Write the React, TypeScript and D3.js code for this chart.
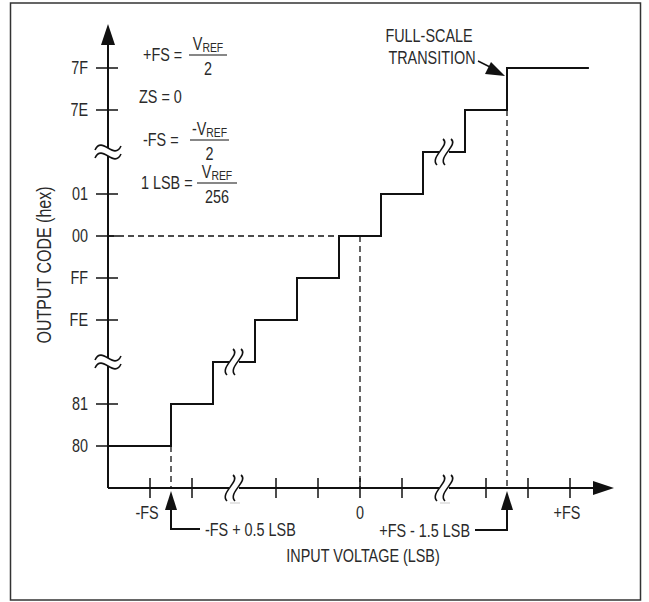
import React from "react";
import * as d3 from "d3";

// ---- data ----
const yCodes = ["80", "81", "FE", "FF", "00", "01", "7E", "7F"];
const ySlots = [1, 2, 4, 5, 6, 7, 9, 10];
const yBreakSlots = [3, 8];
const xTickValues = [-5, -4, -2, -1, 0, 1, 3, 4, 5];
const xBreakValues = [-3, 2];
const xTickLabels = ["-FS", "0", "+FS"];
const xTickLabelValues = [-5, 0, 5];
const stepX = [-6, -4.5, -3.5, -2.5, -1.5, -0.5, 0.5, 1.5, 2.5, 3.5, 5.45];
const stepSlot = [1, 2, 3, 4, 5, 6, 7, 8, 9, 10, 10];
const zeroCodeX = 0;
const zeroCodeSlot = 6;
const firstTransitionX = -4.5;
const lastTransitionX = 3.5;
const lastTransitionSlot = 9;

const FONT = "'Liberation Sans', Arial, sans-serif";
const SX = 0.8;
const INK = "#111";
const TXT = "#2a2a2a";

const W = 649;
const H = 602;

const x = d3.scaleLinear().domain([-6, 6]).range([108, 612]);
const y = d3.scaleLinear().domain([0, 10]).range([488, 68]);

function vSquiggle(cx: number, cy: number) {
  return `M${cx + 3},${cy - 13} C${cx + 11},${cy - 7} ${cx - 11},${cy + 5} ${cx - 3},${cy + 13}`;
}
function hTilde(cx: number, cy: number) {
  return `M${cx - 13},${cy + 2} C${cx - 6},${cy - 13} ${cx + 6},${cy + 13} ${cx + 13},${cy - 2}`;
}

function T({ x: tx, y: ty, anchor = "start", size = 18, rotate = 0, children }: any) {
  return (
    <text
      transform={`translate(${tx},${ty})${rotate ? ` rotate(${rotate})` : ""} scale(${SX},1)`}
      textAnchor={anchor}
      fontFamily={FONT}
      fontSize={size}
      fill={TXT}
    >
      {children}
    </text>
  );
}

function Frac({ lhs, numPrefix, den, x0, base, fx, fw }: any) {
  const numBase = base - 11;
  const lineY = base - 6;
  const denBase = base + 14;
  return (
    <g>
      <T x={x0} y={base}>{lhs}</T>
      <T x={fx + fw / 2} y={numBase} anchor="middle">
        {numPrefix}V<tspan fontSize={13} dy={1.5}>REF</tspan>
      </T>
      <line x1={fx} x2={fx + fw} y1={lineY} y2={lineY} stroke={INK} strokeWidth={1.2} />
      <T x={fx + fw / 2} y={denBase} anchor="middle">{den}</T>
    </g>
  );
}

export default function App() {
  const line = d3
    .line<number>()
    .x((_, i) => x(stepX[i]))
    .y((_, i) => y(stepSlot[i]))
    .curve(d3.curveStepAfter);
  const stepPath = line(stepX) || "";

  const axisY = y(0);
  const axisX = x(-6);
  const annY = 529;

  return (
    <svg width={W} height={H} style={{ position: "absolute", left: 0, top: 0 }}>
      <rect x={0} y={0} width={W} height={H} fill="#fff" />
      <rect x={10.5} y={3} width={630} height={597} fill="none" stroke="#333" strokeWidth={1.5} />

      {/* dashed guides */}
      <g stroke={INK} strokeWidth={1.3} strokeDasharray="6,4" fill="none">
        <line x1={axisX} x2={x(zeroCodeX)} y1={y(zeroCodeSlot)} y2={y(zeroCodeSlot)} />
        <line x1={x(zeroCodeX)} x2={x(zeroCodeX)} y1={y(zeroCodeSlot)} y2={axisY} />
        <line x1={x(firstTransitionX)} x2={x(firstTransitionX)} y1={y(1)} y2={axisY} />
        <line x1={x(lastTransitionX)} x2={x(lastTransitionX)} y1={y(lastTransitionSlot)} y2={axisY} />
      </g>

      {/* staircase */}
      <path d={stepPath} fill="none" stroke={INK} strokeWidth={2} />

      {/* axes */}
      <line x1={axisX} x2={axisX} y1={axisY} y2={40} stroke={INK} strokeWidth={2} />
      <path d={`M${axisX},24 L${axisX - 7},45 L${axisX + 7},45 Z`} fill={INK} />
      <line x1={axisX} x2={598} y1={axisY} y2={axisY} stroke={INK} strokeWidth={2} />
      <path d={`M614,${axisY} L593,${axisY - 7} L593,${axisY + 7} Z`} fill={INK} />

      {/* y ticks */}
      {ySlots.map((s, i) => (
        <g key={yCodes[i]}>
          <line x1={axisX - 12} x2={axisX + 10} y1={y(s)} y2={y(s)} stroke={INK} strokeWidth={1.5} />
          <T x={axisX - 20} y={y(s) + 6} anchor="end">{yCodes[i]}</T>
        </g>
      ))}

      {/* x ticks */}
      {xTickValues.map((v) => (
        <line key={v} x1={x(v)} x2={x(v)} y1={axisY - 10} y2={axisY + 10} stroke={INK} strokeWidth={1.5} />
      ))}
      {xTickLabelValues.map((v, i) => (
        <T key={v} x={x(v) - (v === 0 ? 0 : 3)} y={axisY + 31} anchor="middle">{xTickLabels[i]}</T>
      ))}

      {/* y-axis breaks */}
      {yBreakSlots.map((s) => (
        <g key={"yb" + s}>
          <rect x={axisX - 14} y={y(s) - 4} width={28} height={8} fill="#fff" />
          <path d={hTilde(axisX, y(s) - 4)} fill="none" stroke={INK} strokeWidth={1.6} />
          <path d={hTilde(axisX, y(s) + 4)} fill="none" stroke={INK} strokeWidth={1.6} />
        </g>
      ))}

      {/* x-axis breaks */}
      {xBreakValues.map((v) => (
        <g key={"xb" + v}>
          <rect x={x(v) - 5} y={axisY - 4} width={10} height={8} fill="#fff" />
          <path d={vSquiggle(x(v) - 4, axisY)} fill="none" stroke={INK} strokeWidth={1.6} />
          <path d={vSquiggle(x(v) + 4, axisY)} fill="none" stroke={INK} strokeWidth={1.6} />
          <line x1={x(v) - 4} x2={x(v) + 6} y1={axisY + 15} y2={axisY + 15} stroke="#ccc" strokeWidth={1} />
        </g>
      ))}

      {/* staircase breaks */}
      {xBreakValues.map((v, i) => (
        <g key={"sb" + v}>
          <rect x={x(v) - 5} y={y(yBreakSlots[i]) - 4} width={10} height={8} fill="#fff" />
          <path d={vSquiggle(x(v) - 4, y(yBreakSlots[i]))} fill="none" stroke={INK} strokeWidth={1.6} />
          <path d={vSquiggle(x(v) + 4, y(yBreakSlots[i]))} fill="none" stroke={INK} strokeWidth={1.6} />
        </g>
      ))}

      {/* transition annotations */}
      <path d={`M${x(firstTransitionX)},491 L${x(firstTransitionX) - 6},510 L${x(firstTransitionX) + 6},510 Z`} fill={INK} />
      <path d={`M${x(firstTransitionX)},508 L${x(firstTransitionX)},${annY} L200,${annY}`} fill="none" stroke={INK} strokeWidth={2} />
      <T x={205} y={annY + 7}>-FS + 0.5 LSB</T>

      <path d={`M${x(lastTransitionX)},491 L${x(lastTransitionX) - 6},510 L${x(lastTransitionX) + 6},510 Z`} fill={INK} />
      <path d={`M${x(lastTransitionX)},508 L${x(lastTransitionX)},${annY + 1} L475,${annY + 1}`} fill="none" stroke={INK} strokeWidth={2} />
      <T x={470} y={annY + 8} anchor="end">+FS - 1.5 LSB</T>

      {/* axis titles */}
      <T x={363} y={562} anchor="middle">INPUT VOLTAGE (LSB)</T>
      <T x={51} y={265} anchor="middle" rotate={-90} size={20}>OUTPUT CODE (hex)</T>

      {/* full-scale label */}
      <T x={429} y={42} anchor="middle">FULL-SCALE</T>
      <T x={432} y={64} anchor="middle">TRANSITION</T>
      <line x1={478} y1={61} x2={492} y2={68} stroke={INK} strokeWidth={1.5} />
      <path d="M505,76 L485,74 L491,62 Z" fill={INK} />

      {/* formulas */}
      <Frac lhs="+FS =" numPrefix="" den="2" x0={143} base={61} fx={189} fw={38} />
      <T x={139} y={103}>ZS = 0</T>
      <Frac lhs="-FS =" numPrefix="-" den="2" x0={143} base={146} fx={190} fw={39} />
      <Frac lhs="1 LSB =" numPrefix="" den="256" x0={141} base={189} fx={197} fw={40} />
    </svg>
  );
}
